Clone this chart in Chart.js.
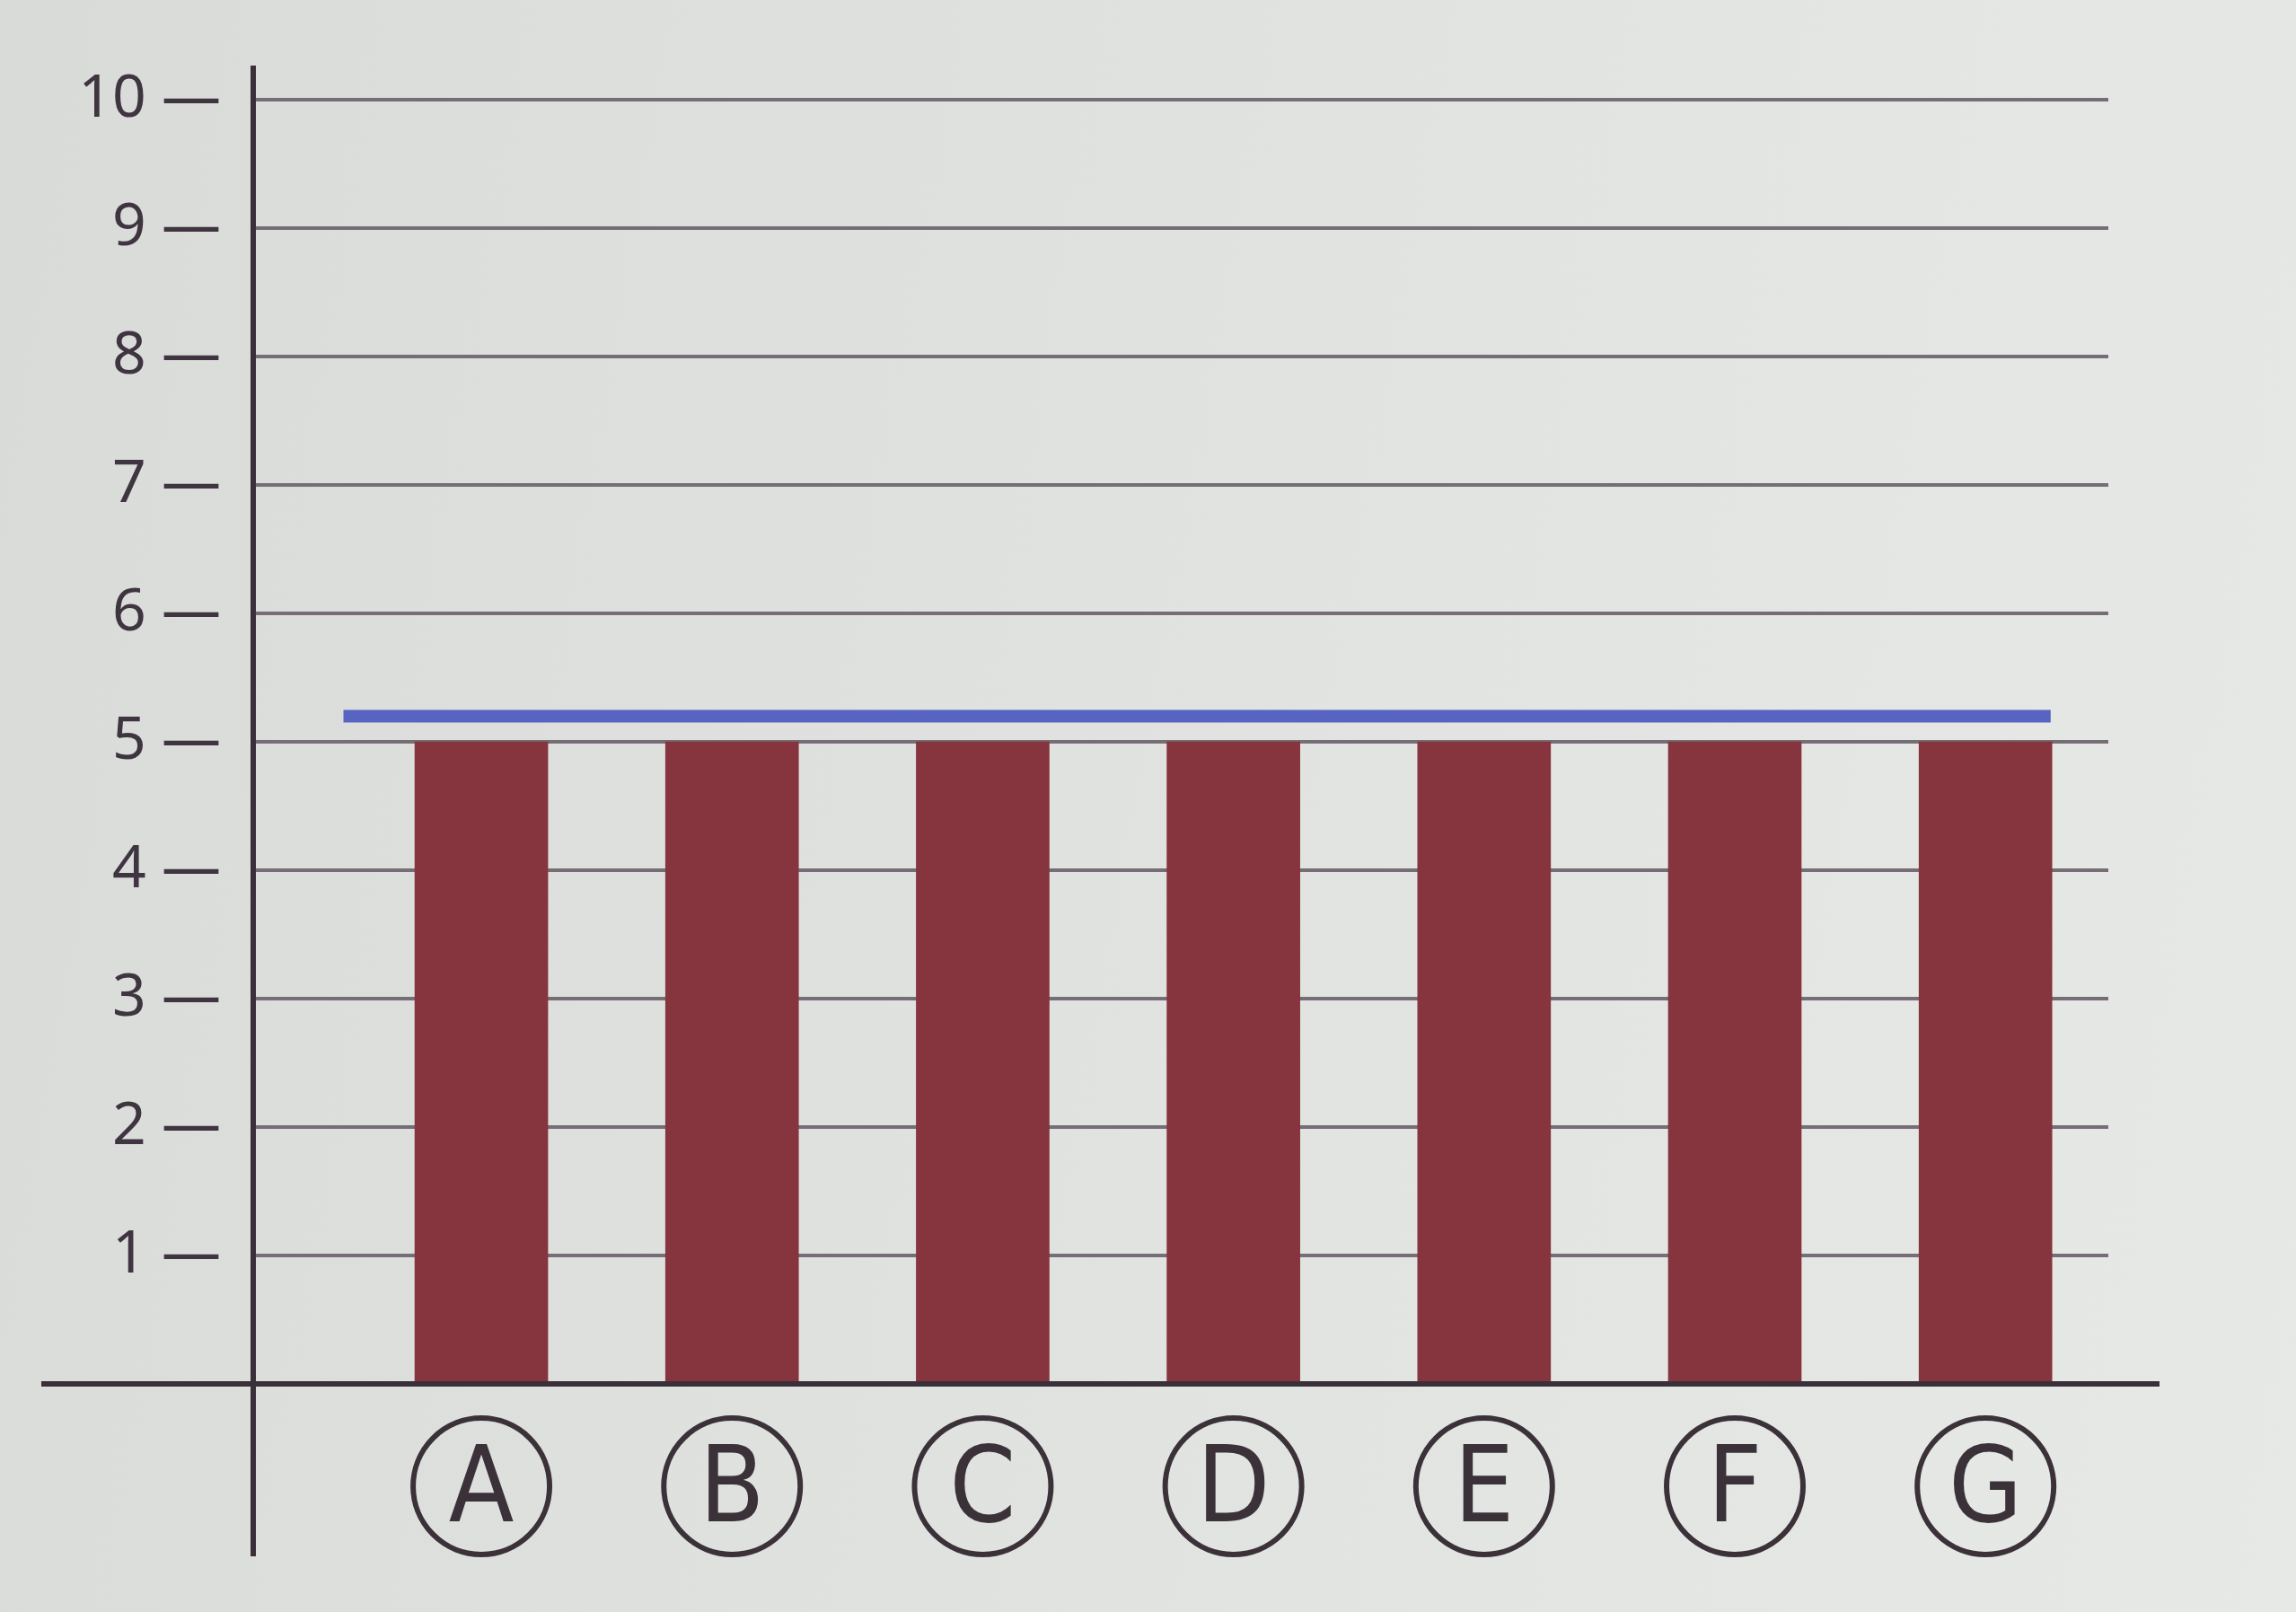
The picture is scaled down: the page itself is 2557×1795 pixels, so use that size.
<!DOCTYPE html>
<html>
<head>
<meta charset="utf-8">
<script src="https://cdn.jsdelivr.net/npm/chart.js@4.4.1/dist/chart.umd.min.js"></script>
<style>
  html, body { margin: 0; padding: 0; }
  body { width: 2557px; height: 1795px; background: linear-gradient(100deg, #d9dbd8 0%, #e0e2df 45%, #e7e9e6 100%); overflow: hidden; }
  #wrap { position: absolute; left: 0; top: 0; width: 2557px; height: 1795px; }
</style>
</head>
<body>
<div id="wrap"><canvas id="c" width="2557" height="1795"></canvas></div>
<script>
// ---- data ----
const categories = ['A', 'B', 'C', 'D', 'E', 'F', 'G'];
const barValues = [5, 5, 5, 5, 5, 5, 5];
const referenceValue = 5.2;              // blue line level
const referenceSpan = [-0.55, 6.26];     // blue line extent, in category-index units
const yTicks = [0, 1, 2, 3, 4, 5, 6, 7, 8, 9, 10];

// ---- styles ----
const AXIS = '#3a3039';
const GRID = '#776d76';
const BAR = '#86343d';
const LINE = '#5864c2';
const TEXT = '#3f3540';
const LETTER_FONT = '"Liberation Sans Narrow", "DejaVu Sans Condensed", "Noto Sans", sans-serif';

const extras = {
  id: 'extras',
  afterDatasetsDraw(chart) {
    const { ctx, chartArea, scales } = chart;
    const x = scales.x, y = scales.y;
    const y0 = y.getPixelForValue(0);
    ctx.save();
    ctx.strokeStyle = AXIS;
    ctx.lineWidth = 6;
    ctx.lineCap = 'butt';
    // baseline, extended beyond plot
    ctx.beginPath();
    ctx.moveTo(46, y0);
    ctx.lineTo(chartArea.right + 57, y0);
    ctx.stroke();
    // vertical axis, extended above and below
    ctx.beginPath();
    ctx.moveTo(chartArea.left, chartArea.top - 38);
    ctx.lineTo(chartArea.left, y0 + 192);
    ctx.stroke();
    // circles around category letters
    ctx.lineWidth = 6;
    ctx.strokeStyle = '#3b3239';
    const cy = x.top + 114;
    categories.forEach((c, i) => {
      const cx = x.getPixelForValue(i);
      ctx.beginPath();
      ctx.arc(cx, cy, 76, 0, Math.PI * 2);
      ctx.stroke();
    });
    ctx.restore();
  }
};

new Chart(document.getElementById('c'), {
  data: {
    datasets: [
      {
        type: 'line',
        data: referenceSpan.map(v => ({ x: v, y: referenceValue })),
        borderColor: LINE,
        borderWidth: 14,
        pointRadius: 0,
        borderCapStyle: 'butt',
        order: 0
      },
      {
        type: 'bar',
        data: barValues.map((v, i) => ({ x: i, y: v })),
        backgroundColor: BAR,
        borderWidth: 0,
        barThickness: 148,
        order: 1
      }
    ]
  },
  options: {
    responsive: false,
    animation: false,
    events: [],
    layout: { padding: { left: 0, right: 209, top: 111, bottom: 0 } },
    plugins: { legend: { display: false }, tooltip: { enabled: false } },
    scales: {
      x: {
        type: 'linear',
        offset: false,
        min: -0.91,
        max: 6.49,
        afterFit: s => { s.height = 254; },
        afterBuildTicks: s => { s.ticks = categories.map((c, i) => ({ value: i })); },
        grid: { display: false, drawTicks: false, offset: false },
        border: { display: false },
        ticks: {
          padding: 52,
          color: '#3b3239',
          font: { family: LETTER_FONT, size: 118 },
          maxRotation: 0,
          autoSkip: false,
          callback: v => categories[v] ?? ''
        }
      },
      y: {
        type: 'linear',
        min: yTicks[0],
        max: yTicks[yTicks.length - 1],
        afterFit: s => { s.width = 282; },
        afterBuildTicks: s => { s.ticks = yTicks.map(v => ({ value: v })); },
        grid: {
          drawTicks: false,
          lineWidth: 4,
          color: c => (c.tick && c.tick.value === 0) ? 'rgba(0,0,0,0)' : GRID
        },
        border: { display: false },
        ticks: {
          padding: 36,
          color: TEXT,
          font: { family: '"Noto Sans", "Open Sans", sans-serif', size: 66 },
          callback: v => v === 0 ? '' : v + ' \u2014'
        }
      }
    }
  },
  plugins: [extras]
});
</script>
</body>
</html>
